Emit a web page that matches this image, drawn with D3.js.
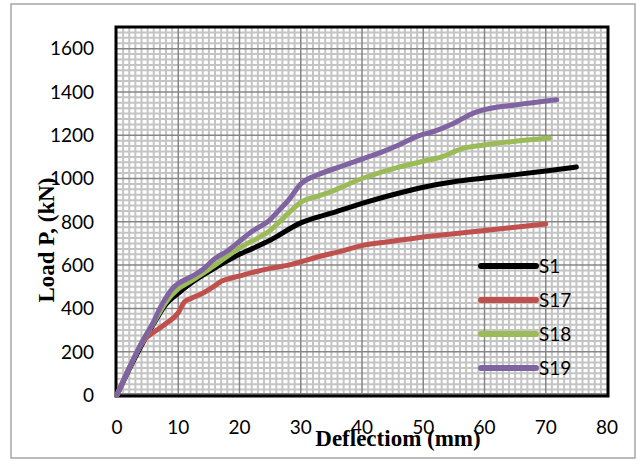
<!DOCTYPE html>
<html><head><meta charset="utf-8">
<script src="https://cdn.jsdelivr.net/npm/d3@7"></script>
<style>body{margin:0;background:#fff}svg{display:block}</style>
</head><body>
<script>
const seriesNames = ["S1", "S17", "S18", "S19"];
const seriesColors = ["#000000", "#C0504D", "#9BBB59", "#8064A2"];
const s1Defl = [0,2,4,6,8,10,12,15,18,20,22,25,30,35,40,45,50,55,60,65,70,75];
const s1Load = [0,120,230,330,420,470,515,570,620,650,675,715,795,840,885,925,960,985,1002,1018,1035,1053];
const s17Defl = [0,2,4,5,6,8,10,11,12,14,16,17,18,20,22,25,28,30,33,36,40,45,50,55,60,65,70];
const s17Load = [0,125,235,270,290,330,380,430,445,470,505,525,535,550,565,585,600,615,640,660,690,710,730,745,760,775,790];
const s18Defl = [0,2,4,6,8,10,12,15,18,20,22,25,28,30,33,35,40,45,50,53,56,60,65,70.6];
const s18Load = [0,125,240,335,430,490,525,580,640,680,710,760,840,890,920,940,1000,1045,1080,1100,1135,1155,1172,1187];
const s19Defl = [0,2,4,6,7,8,9,10,12,14,16,18,20,22,25,26,28,30,33,36,40,43,46,49,52,55,58,60,65,71.8];
const s19Load = [0,125,240,340,400,450,490,515,545,580,630,665,710,755,810,840,900,975,1020,1050,1090,1120,1155,1195,1220,1255,1300,1318,1340,1364];
const xTicks = [0,10,20,30,40,50,60,70,80];
const yTicks = [0,200,400,600,800,1000,1200,1400,1600];
const xTitle = "Deflectiom (mm)";
const yTitle = "Load P, (kN)";

const W = 638, H = 461;
const svg = d3.select("body").append("svg").attr("width", W).attr("height", H);
svg.append("rect").attr("x", 11).attr("y", 4).attr("width", 624).attr("height", 454)
  .attr("fill", "#fff").attr("stroke", "#a6a6a6").attr("stroke-width", 1.5);

const L = 117, R = 607, T = 27, B = 395;
const x = d3.scaleLinear().domain([0, 80]).range([L, R]);
const y = d3.scaleLinear().domain([0, 1700]).range([B, T]);

// minor grid
const g = svg.append("g");
g.selectAll(".vx").data(d3.range(1, 80).filter(v => v % 10 !== 0)).join("line")
  .attr("x1", d => x(d)).attr("x2", d => x(d)).attr("y1", T).attr("y2", B)
  .attr("stroke", "#c4c4c4").attr("stroke-width", 2);
g.selectAll(".hy").data(d3.range(25, 1700, 25).filter(v => v % 200 !== 0)).join("line")
  .attr("y1", d => y(d)).attr("y2", d => y(d)).attr("x1", L).attr("x2", R)
  .attr("stroke", "#c4c4c4").attr("stroke-width", 2);
// major grid
g.selectAll(".mx").data(xTicks.slice(1, -1)).join("line")
  .attr("x1", d => x(d)).attr("x2", d => x(d)).attr("y1", T).attr("y2", B)
  .attr("stroke", "#868686").attr("stroke-width", 1.5);
g.selectAll(".my").data(yTicks.slice(1)).join("line")
  .attr("y1", d => y(d)).attr("y2", d => y(d)).attr("x1", L).attr("x2", R)
  .attr("stroke", "#868686").attr("stroke-width", 1.5);

// axis lines (grey) inside border
svg.append("line").attr("x1", L).attr("x2", R).attr("y1", B - 1).attr("y2", B - 1)
  .attr("stroke", "#868686").attr("stroke-width", 2);
// plot border
svg.append("rect").attr("x", L - 1).attr("y", T).attr("width", R - L + 2).attr("height", B - T + 1)
  .attr("fill", "none").attr("stroke", "#000").attr("stroke-width", 3);

// tick labels
const font = "Lato, 'Open Sans', sans-serif";
svg.selectAll(".yt").data(yTicks).join("text")
  .attr("x", 94).attr("y", d => y(d)).attr("dy", "0.36em")
  .attr("text-anchor", "end").attr("font-family", font).attr("font-size", 19).attr("fill", "#000")
  .text(d => d);
svg.selectAll(".xt").data(xTicks).join("text")
  .attr("x", d => x(d)).attr("y", 427).attr("dy", "0.36em")
  .attr("text-anchor", "middle").attr("font-family", font).attr("font-size", 19).attr("fill", "#000")
  .text(d => d);

// series
const series = [
  {name: seriesNames[0], xs: s1Defl, ys: s1Load},
  {name: seriesNames[1], xs: s17Defl, ys: s17Load},
  {name: seriesNames[2], xs: s18Defl, ys: s18Load},
  {name: seriesNames[3], xs: s19Defl, ys: s19Load}
];
const line = d3.line().x(d => x(d[0])).y(d => y(d[1])).curve(d3.curveMonotoneX);
series.forEach((s, i) => {
  svg.append("path").datum(s.xs.map((v, j) => [v, s.ys[j]]))
    .attr("d", line).attr("fill", "none").attr("stroke", seriesColors[i])
    .attr("stroke-width", 5).attr("stroke-linecap", "round").attr("stroke-linejoin", "round");
});

// titles
const serif = "'Liberation Serif', 'DejaVu Serif', serif";
svg.append("text").attr("x", 398).attr("y", 446).attr("text-anchor", "middle")
  .attr("font-family", serif).attr("font-weight", "bold").attr("font-size", 23).attr("fill", "#000")
  .text(xTitle);
svg.append("text").attr("transform", "translate(54,240) rotate(-90)").attr("text-anchor", "middle")
  .attr("font-family", serif).attr("font-weight", "bold").attr("font-size", 23).attr("fill", "#000")
  .text(yTitle);

// legend
const leg = svg.append("g");
seriesNames.forEach((n, i) => {
  const ly = 266 + i * 34;
  leg.append("line").attr("x1", 481).attr("x2", 536).attr("y1", ly).attr("y2", ly)
    .attr("stroke", seriesColors[i]).attr("stroke-width", 6).attr("stroke-linecap", "round");
  leg.append("text").attr("x", 539).attr("y", ly).attr("dy", "0.36em")
    .attr("font-family", font).attr("font-size", 19).attr("fill", "#000").text(n);
});
</script>
</body></html>
